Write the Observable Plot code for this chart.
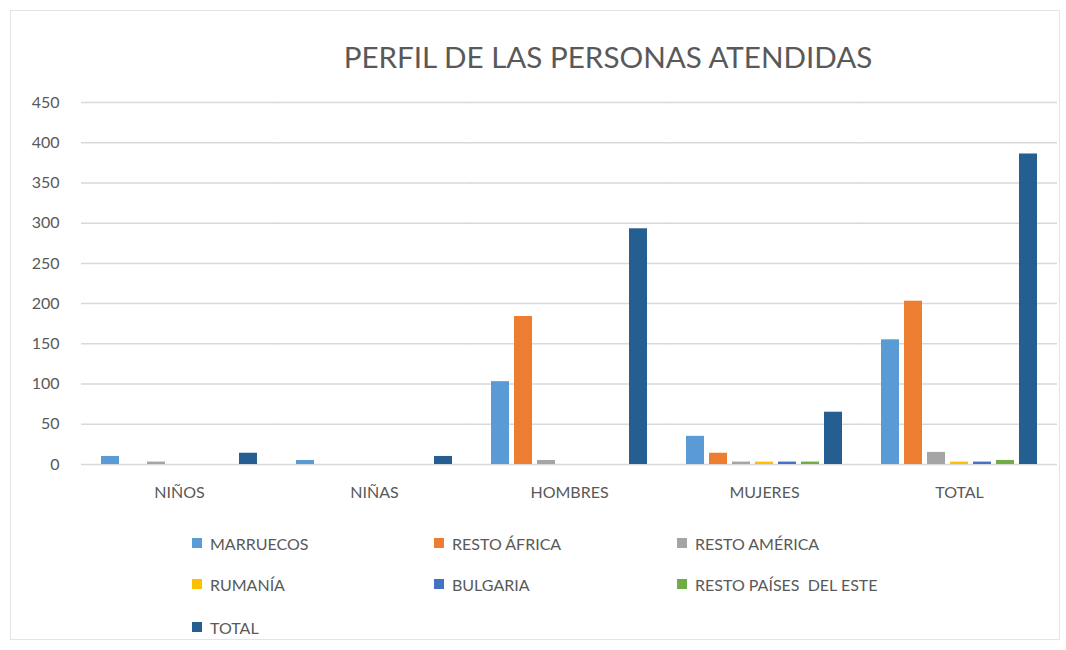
<!DOCTYPE html>
<html>
<head>
<meta charset="utf-8">
<script src="https://cdn.jsdelivr.net/npm/d3@7"></script>
<script src="https://cdn.jsdelivr.net/npm/@observablehq/plot@0.6"></script>
<style>
  html, body { margin: 0; padding: 0; background: #fff; }
  body { width: 1066px; height: 650px; position: relative; overflow: hidden; font-family: Lato, "Open Sans", sans-serif; }
  #frame { position: absolute; left: 10px; top: 10px; width: 1048px; height: 628px; border: 1px solid #e4e4e4; }
  #title { position: absolute; left: 0; top: 39px; width: 1216px; text-align: center; font-size: 29.6px; color: #595959; }
  #chart { position: absolute; left: 0; top: 80px; }
  .leg { position: absolute; font-size: 16px; color: #595959; display: flex; align-items: center; }
  .sw { width: 10px; height: 10px; margin-right: 8px; display: inline-block; }
</style>
</head>
<body>
<div id="frame"></div>
<div id="title">PERFIL DE LAS PERSONAS ATENDIDAS</div>
<div id="chart"></div>
<div id="legend"></div>
<script>
const categories = ["NIÑOS", "NIÑAS", "HOMBRES", "MUJERES", "TOTAL"];
const series = ["MARRUECOS", "RESTO ÁFRICA", "RESTO AMÉRICA", "RUMANÍA", "BULGARIA", "RESTO PAÍSES  DEL ESTE", "TOTAL"];
const colors = ["#5B9BD5", "#ED7D31", "#A5A5A5", "#FFC000", "#4472C4", "#70AD47", "#255E91"];
const marruecos    = [10, 5, 103, 35, 155];
const restoAfrica  = [0, 0, 184, 14, 203];
const restoAmerica = [3, 0, 5, 3, 15];
const rumania      = [0, 0, 0, 3, 3];
const bulgaria     = [0, 0, 0, 3, 3];
const restoPaises  = [0, 0, 0, 3, 5];
const total        = [14, 10, 293, 65, 386];
const yTicks = [0, 50, 100, 150, 200, 250, 300, 350, 400, 450];

const seriesValues = [marruecos, restoAfrica, restoAmerica, rumania, bulgaria, restoPaises, total];
const data = [];
categories.forEach((c, i) => {
  series.forEach((s, j) => {
    data.push({cat: c, serie: s, value: seriesValues[j][i]});
  });
});

const chart = Plot.plot({
  width: 1066,
  height: 425,
  marginLeft: 80,
  marginRight: 9,
  marginTop: 22,
  marginBottom: 41,
  style: {fontFamily: "Lato, 'Open Sans', sans-serif", color: "#595959", background: "transparent"},
  fx: {domain: categories, paddingInner: 0.18, paddingOuter: 0.09, label: null},
  x: {domain: series, paddingInner: 0.2, paddingOuter: 0, axis: null},
  y: {domain: [0, 450], label: null, axis: null},
  color: {domain: series, range: colors},
  marks: [
    Plot.ruleY(yTicks, {stroke: "#d9d9d9", strokeWidth: 1.5, insetLeft: -18, insetRight: -18}),
    Plot.barY(data, {fx: "cat", x: "serie", y: "value", fill: "serie"}),
    Plot.axisY({ticks: yTicks, tickSize: 0, tickPadding: 40, fontSize: 16, label: null, anchor: "left"}),
    Plot.axisFx({tickSize: 0, tickPadding: 22, fontSize: 16, label: null, anchor: "bottom"})
  ]
});
document.getElementById("chart").appendChild(chart);

const legend = document.getElementById("legend");
const colX = [192, 434, 677];
const rowY = [543, 584, 627];
series.forEach((s, k) => {
  const d = document.createElement("div");
  d.className = "leg";
  d.style.left = colX[k % 3] + "px";
  d.style.top = (rowY[Math.floor(k / 3)] - 11) + "px";
  d.style.height = "22px";
  d.innerHTML = `<span class="sw" style="background:${colors[k]}"></span><span style="white-space:pre">${s}</span>`;
  legend.appendChild(d);
});
</script>
</body>
</html>
